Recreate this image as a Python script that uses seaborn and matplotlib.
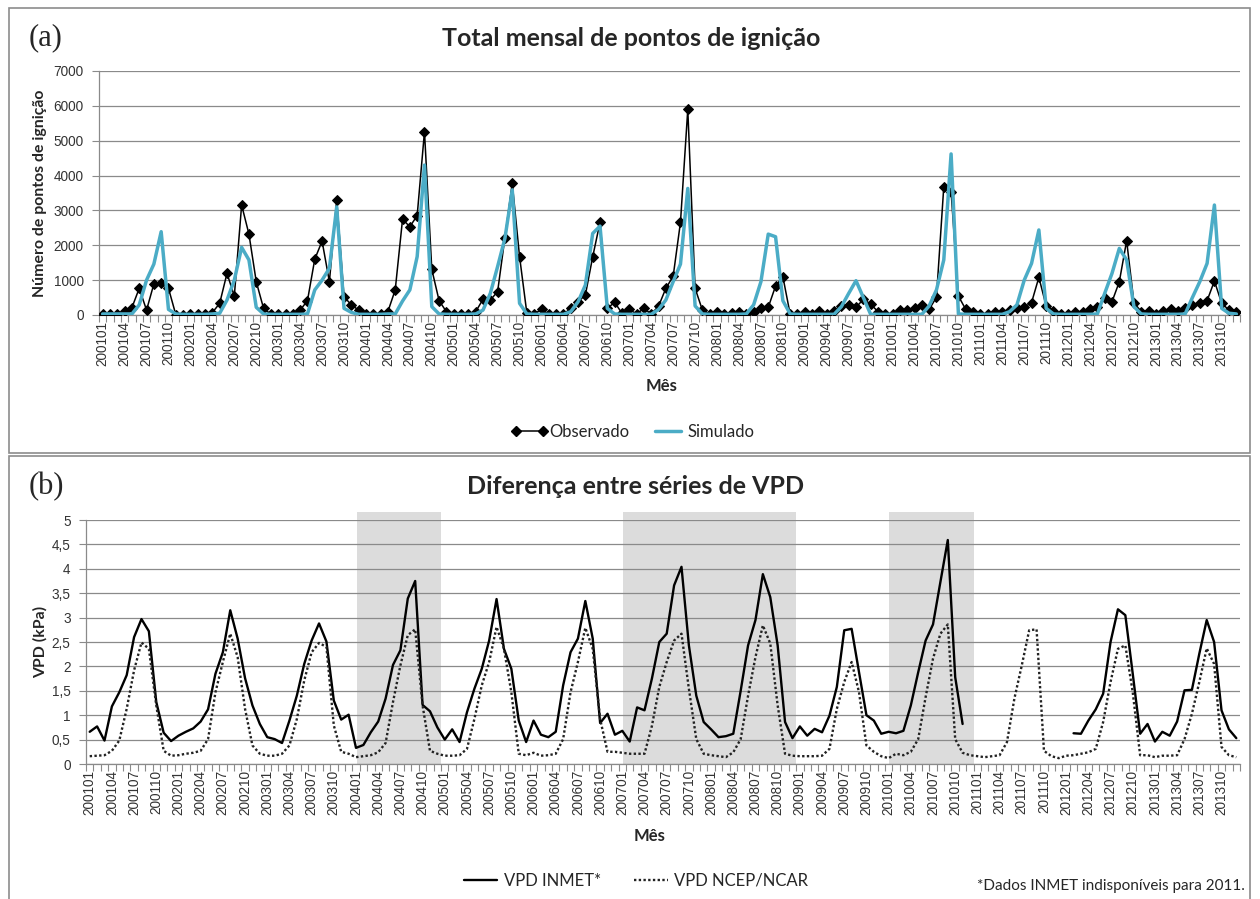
import numpy as np
import pandas as pd
import matplotlib
matplotlib.use('Agg')
import matplotlib.pyplot as plt
import seaborn as sns
from matplotlib.lines import Line2D
from matplotlib.patches import Rectangle
from matplotlib.ticker import FuncFormatter, MultipleLocator

# meses 200101 .. 201312
months = [f"{y}{m:02d}" for y in range(2001, 2014) for m in range(1, 13)]

# (a) total mensal de pontos de ignição
observado = [
    30, 20, 20, 120, 210, 765, 140, 890, 910, 765, 10, 10,
    20, 20, 20, 70, 335, 1195, 545, 3155, 2320, 955, 190, 20,
    20, 20, 20, 140, 410, 1600, 2120, 955, 3300, 525, 290, 140,
    20, 20, 20, 100, 720, 2745, 2535, 2850, 5260, 1310, 410, 95,
    30, 20, 20, 95, 450, 430, 670, 2220, 3780, 1675, 50, 30,
    160, 20, 20, 20, 190, 380, 575, 1670, 2660, 190, 365, 50,
    160, 30, 190, 30, 250, 765, 1110, 2660, 5900, 765, 140, 20,
    95, 30, 70, 95, 30, 95, 190, 220, 830, 1100, 20, 20,
    95, 20, 125, 20, 125, 260, 290, 220, 450, 315, 95, 20,
    20, 140, 140, 190, 290, 160, 510, 3680, 3540, 545, 160, 95,
    30, 30, 95, 95, 140, 190, 220, 355, 1080, 260, 125, 30,
    30, 95, 95, 160, 220, 480, 380, 955, 2130, 355, 95, 125,
    30, 125, 160, 125, 190, 290, 355, 410, 975, 335, 140, 75,
]
simulado = [
    30, 30, 30, 30, 30, 290, 1000, 1460, 2390, 160, 30, 20,
    20, 20, 20, 30, 50, 430, 1000, 1940, 1580, 220, 30, 20,
    20, 20, 20, 20, 30, 720, 1000, 1340, 3100, 190, 75, 20,
    20, 20, 20, 30, 30, 400, 720, 1675, 4300, 240, 30, 20,
    20, 20, 20, 30, 140, 620, 1390, 2200, 3590, 335, 30, 20,
    20, 20, 20, 20, 95, 380, 860, 2340, 2550, 190, 30, 20,
    20, 20, 20, 20, 160, 430, 955, 1460, 3630, 260, 30, 20,
    20, 20, 20, 20, 30, 290, 955, 2320, 2245, 410, 30, 20,
    20, 20, 20, 20, 20, 240, 620, 985, 505, 20, 20, 20,
    20, 20, 20, 20, 20, 260, 720, 1580, 4620, 30, 20, 20,
    20, 20, 20, 20, 95, 290, 1000, 1480, 2440, 190, 30, 20,
    20, 20, 20, 20, 30, 620, 1195, 1910, 1580, 240, 30, 20,
    20, 20, 20, 20, 30, 505, 955, 1480, 3155, 190, 50, 30,
]

# (b) VPD (kPa)
nan = np.nan
vpd_inmet = [
    0.66, 0.77, 0.48, 1.18, 1.47, 1.82, 2.60, 2.97, 2.72, 1.27, 0.64, 0.47,
    0.58, 0.66, 0.73, 0.87, 1.12, 1.85, 2.29, 3.15, 2.57, 1.76, 1.20, 0.82,
    0.55, 0.51, 0.43, 0.89, 1.40, 2.05, 2.53, 2.88, 2.51, 1.30, 0.91, 1.01,
    0.33, 0.39, 0.65, 0.87, 1.34, 2.03, 2.33, 3.39, 3.75, 1.21, 1.08, 0.75,
    0.50, 0.71, 0.45, 1.06, 1.54, 1.95, 2.53, 3.38, 2.36, 1.95, 0.89, 0.45,
    0.89, 0.60, 0.55, 0.66, 1.61, 2.29, 2.57, 3.34, 2.57, 0.84, 1.03, 0.60,
    0.68, 0.46, 1.16, 1.10, 1.75, 2.50, 2.67, 3.66, 4.04, 2.43, 1.40, 0.86,
    0.71, 0.55, 0.57, 0.62, 1.50, 2.43, 2.95, 3.89, 3.42, 2.43, 0.86, 0.53,
    0.77, 0.58, 0.72, 0.65, 0.99, 1.58, 2.74, 2.77, 1.88, 1.00, 0.89, 0.62,
    0.66, 0.63, 0.68, 1.20, 1.88, 2.53, 2.86, 3.73, 4.59, 1.78, 0.82, nan,
    nan, nan, nan, nan, nan, nan, nan, nan, nan, nan, nan, nan,
    nan, 0.63, 0.62, 0.89, 1.12, 1.44, 2.50, 3.17, 3.05, 1.85, 0.62, 0.82,
    0.46, 0.66, 0.58, 0.87, 1.51, 1.52, 2.26, 2.95, 2.50, 1.10, 0.71, 0.53,
]
vpd_ncep = [
    0.16, 0.17, 0.18, 0.27, 0.48, 1.13, 1.92, 2.49, 2.36, 1.20, 0.27, 0.17,
    0.18, 0.21, 0.23, 0.27, 0.51, 1.47, 2.09, 2.67, 2.19, 1.13, 0.38, 0.21,
    0.17, 0.17, 0.21, 0.38, 0.92, 1.71, 2.29, 2.48, 2.40, 0.79, 0.25, 0.21,
    0.14, 0.16, 0.18, 0.24, 0.43, 1.27, 2.02, 2.64, 2.76, 1.20, 0.27, 0.21,
    0.17, 0.17, 0.18, 0.31, 0.92, 1.61, 2.09, 2.81, 2.36, 1.47, 0.21, 0.18,
    0.23, 0.17, 0.18, 0.21, 0.51, 1.47, 2.09, 2.79, 2.36, 0.92, 0.25, 0.25,
    0.23, 0.21, 0.21, 0.21, 0.78, 1.58, 2.09, 2.53, 2.67, 1.54, 0.51, 0.21,
    0.18, 0.16, 0.14, 0.24, 0.51, 1.40, 2.19, 2.84, 2.47, 1.20, 0.21, 0.17,
    0.16, 0.16, 0.16, 0.17, 0.31, 1.13, 1.68, 2.09, 1.47, 0.38, 0.25, 0.16,
    0.12, 0.21, 0.18, 0.25, 0.51, 1.37, 2.16, 2.67, 2.86, 0.51, 0.23, 0.18,
    0.16, 0.14, 0.16, 0.18, 0.45, 1.34, 2.02, 2.74, 2.76, 0.27, 0.16, 0.12,
    0.17, 0.18, 0.21, 0.24, 0.31, 0.86, 1.68, 2.36, 2.43, 1.47, 0.18, 0.18,
    0.14, 0.17, 0.17, 0.18, 0.51, 1.03, 1.68, 2.37, 2.05, 0.35, 0.18, 0.14,
]

# periodos sombreados no painel (b)
shade_start = ["200401", "200701", "201001"]
shade_end = ["200412", "200812", "201012"]

df = pd.DataFrame({
    'x': np.arange(len(months)),
    'mes': months,
    'Observado': observado,
    'Simulado': simulado,
    'INMET': vpd_inmet,
    'NCEP': vpd_ncep,
})
df['seg'] = df['INMET'].isna().cumsum()

sns.set_theme(style='white')
plt.rcParams['font.family'] = ['Lato', 'DejaVu Sans']

W, H = 1260, 899
fig = plt.figure(figsize=(W / 100, H / 100), dpi=100)

def fx(px):
    return px / W

def fy(py):
    return 1 - py / H

# molduras dos paineis
for top, bot in [(8, 453), (456, 905)]:
    fig.patches.append(Rectangle((fx(9), fy(bot)), fx(1250 - 9), fy(top) - fy(bot),
                                 transform=fig.transFigure, fill=False,
                                 edgecolor='#8c8c8c', lw=1.2, zorder=0))

ax1 = fig.add_axes([fx(99), fy(315), fx(1240 - 99), fy(71) - fy(315)])
ax2 = fig.add_axes([fx(86), fy(764), fx(1240 - 86), fy(520) - fy(764)])

grid_c = '#8a8a8a'
tick_font = {'family': 'Liberation Sans', 'size': 9.8}

sns.lineplot(data=df, x='x', y='Observado', ax=ax1, color='black', lw=1.1,
             marker='D', markersize=5, markeredgecolor='black', zorder=3)
sns.lineplot(data=df, x='x', y='Simulado', ax=ax1, color='#4bacc6', lw=2.5, zorder=4)
ax1.set_ylim(0, 7000)
ax1.yaxis.set_major_locator(MultipleLocator(1000))

for s, e in zip(shade_start, shade_end):
    i0 = months.index(s)
    i1 = months.index(e)
    ax2.axvspan(i0 + 0.1, i1 + 0.5, ymin=0, ymax=1.033, color='#dcdcdc', lw=0,
                zorder=0, clip_on=False)
sns.lineplot(data=df.dropna(subset=['INMET']), x='x', y='INMET', units='seg',
             estimator=None, ax=ax2, color='black', lw=1.7, zorder=3)
sns.lineplot(data=df, x='x', y='NCEP', ax=ax2, color='#222222', lw=1.7,
             linestyle=(0, (1, 1)), zorder=3)
ax2.set_ylim(0, 5)
ax2.yaxis.set_major_locator(MultipleLocator(0.5))
ax2.yaxis.set_major_formatter(FuncFormatter(lambda v, p: f"{v:g}".replace('.', ',')))

for ax in (ax1, ax2):
    ax.set_xlim(-0.5, len(months) - 0.5)
    ax.set_xticks(np.arange(0, len(months), 3))
    ax.set_xticklabels(months[::3], rotation=90, fontdict=tick_font, color='#333333')
    ax.set_xticks(np.arange(-0.5, len(months), 1), minor=True)
    ax.tick_params(axis='x', which='major', length=0, pad=4)
    ax.tick_params(axis='x', which='minor', length=5, width=0.8, color=grid_c,
                   direction='out', bottom=True)
    ax.tick_params(axis='y', length=5, width=0.8, color=grid_c, pad=6, left=True)
    for lab in ax.get_yticklabels():
        lab.set_fontfamily('Liberation Sans')
        lab.set_fontsize(9.8)
        lab.set_color('#333333')
    ax.grid(axis='y', color=grid_c, lw=0.9)
    ax.set_axisbelow(True)
    for side in ('top', 'right'):
        ax.spines[side].set_visible(False)
    for side in ('left', 'bottom'):
        ax.spines[side].set_color(grid_c)
        ax.spines[side].set_linewidth(0.9)
    ax.set_xlabel('')
    ax.set_ylabel('')
    ax.patch.set_alpha(0)

# textos do painel (a)
fig.text(fx(29), fy(38), '(a)', family='Liberation Serif', fontsize=22, va='center')
fig.text(fx(631), fy(38), 'Total mensal de pontos de ignição', fontsize=18,
         fontweight='bold', ha='center', va='center')
fig.text(fx(40), fy(193), 'Número de pontos de ignição', fontsize=11.4,
         fontweight='bold', rotation=90, ha='center', va='center')
fig.text(fx(662), fy(386), 'Mês', fontsize=12, fontweight='bold', ha='center', va='center')

h1 = [Line2D([], [], color='black', lw=1.1, marker='D', markersize=5),
      Line2D([], [], color='#4bacc6', lw=2.5)]
ax1.legend(h1, ['Observado', 'Simulado'], loc='center', ncol=2, numpoints=2,
           bbox_to_anchor=(fx(633), fy(432)), bbox_transform=fig.transFigure,
           frameon=False, fontsize=12, handlelength=2.2, handletextpad=0.1,
           columnspacing=1.2)

# textos do painel (b)
fig.text(fx(29), fy(487), '(b)', family='Liberation Serif', fontsize=22, va='center')
fig.text(fx(636), fy(487), 'Diferença entre séries de VPD', fontsize=18,
         fontweight='bold', ha='center', va='center')
fig.text(fx(40), fy(642), 'VPD (kPa)', fontsize=11.4,
         fontweight='bold', rotation=90, ha='center', va='center')
fig.text(fx(650), fy(836), 'Mês', fontsize=12, fontweight='bold', ha='center', va='center')

h2 = [Line2D([], [], color='black', lw=1.7),
      Line2D([], [], color='#222222', lw=1.7, linestyle=(0, (1, 1)))]
ax2.legend(h2, ['VPD INMET*', 'VPD NCEP/NCAR'], loc='center', ncol=2,
           bbox_to_anchor=(fx(636), fy(881)), bbox_transform=fig.transFigure,
           frameon=False, fontsize=12, handlelength=2.0, handletextpad=0.4,
           columnspacing=2.0)
fig.text(fx(1245), fy(886), '*Dados INMET indisponíveis para 2011.', fontsize=11,
         ha='right', va='center')

fig.savefig('out.png', dpi=100)
